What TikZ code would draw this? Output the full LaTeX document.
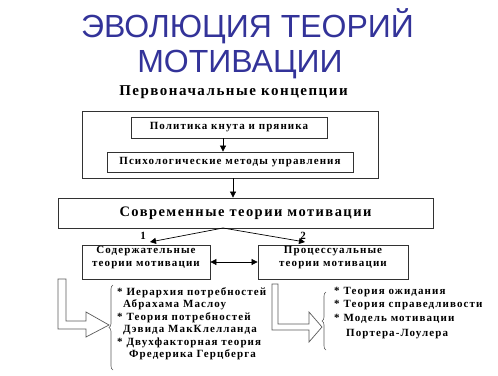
\documentclass[tikz,border=0pt]{standalone}
\usepackage{fontspec}
\setmainfont{Liberation Serif}
\newfontfamily\titlef{Liberation Sans}
\newfontfamily\bodyf[LetterSpace=10]{Liberation Serif}
\usetikzlibrary{arrows.meta,decorations.pathreplacing}
\definecolor{titleblue}{RGB}{51,51,153}
\definecolor{boxline}{RGB}{50,50,50}
\definecolor{hollow}{RGB}{90,90,90}
\tikzset{
  ttl/.style={font=\titlef\fontsize{32}{32}\selectfont, text=titleblue, anchor=base, inner sep=0pt},
  txt/.style={font=\bodyf\bfseries\fontsize{11}{13}\selectfont, inner sep=0pt, align=center},
  item/.style={font=\bodyf\bfseries\fontsize{11}{13}\selectfont, inner sep=0pt, anchor=base west},
  box/.style={draw=boxline, line width=0.8pt, rectangle, inner sep=0pt},
  arr/.style={draw=black, line width=0.7pt, -{Triangle[length=6pt,width=6pt]}},
  darr/.style={draw=black, line width=0.7pt, {Triangle[length=6pt,width=6pt]}-{Triangle[length=6pt,width=6pt]}},
  hol/.style={draw=hollow, line width=0.7pt, fill=white},
  brc/.style={draw=hollow, line width=0.6pt, decorate, decoration={brace, amplitude=4pt}}
}
\begin{document}
\begin{tikzpicture}[x=1pt,y=-1pt]
\useasboundingbox (0,0) rectangle (498,375);
% title
\node[ttl] (t1) at (247.5,37) {ЭВОЛЮЦИЯ ТЕОРИЙ};
\node[ttl] (t2) at (240,72) {МОТИВАЦИИ};
\node[txt, font=\bodyf\bfseries\fontsize{15}{17}\selectfont, anchor=base] (pk) at (233.5,95) {Первоначальные концепции};
% boxes
\node[box, minimum width=296pt, minimum height=67pt] (outer) at (230,144.5) {};
\node[box, minimum width=196pt, minimum height=21pt] (pol) at (229,127.5) {};
\node[txt] at (pol.center) {Политика кнута и пряника};
\node[box, minimum width=246pt, minimum height=20pt] (psy) at (230,162) {};
\node[txt] at (psy.center) {Психологические методы управления};
\node[box, minimum width=375pt, minimum height=30pt] (sov) at (245.5,213) {};
\node[txt, font=\bodyf\bfseries\fontsize{14.5}{16}\selectfont] at (sov.center) {Современные теории мотивации};
\node[box, minimum width=128pt, minimum height=34pt] (sod) at (146,262) {};
\node[txt] at (146,258) {Содержательные\\теории мотивации};
\node[box, minimum width=150pt, minimum height=34pt] (pro) at (333,262) {};
\node[txt] at (333,258) {Процессуальные\\теории мотивации};
% connectors
\coordinate (c1) at (223,228);
\draw[arr] (pol.south -| c1) -- (psy.north -| c1);
\coordinate (c2) at (233,178);
\draw[arr] (outer.south -| c2) -- (sov.north -| c2);
\coordinate (e1) at (150,242);
\coordinate (e2) at (305,242);
\draw[arr] (c1) -- (e1);
\draw[arr] (c1) -- (e2);
\node[txt, font=\bodyf\bfseries\fontsize{11}{13}\selectfont] (n1) at (143,236) {1};
\node[txt, font=\bodyf\bfseries\fontsize{11}{13}\selectfont] (n2) at (303,236) {2};
\draw[darr] (sod.east) -- (pro.west);
% hollow arrows
\draw[hol] (58,279) -- (58,329) -- (86,329) -- (86,337) -- (109,325) -- (86,312) -- (86,321) -- (66,321) -- (66,279) -- cycle;
\draw[hol] (272,284) -- (272,330) -- (309,330) -- (309,342) -- (322,327) -- (309,312) -- (309,324) -- (278,324) -- (278,284) -- cycle;
% braces
\draw[brc] (113,370) -- (113,285);
\draw[brc] (326,350) -- (326,292);
% left list
\node[item] (l1) at (117,295) {* Иерархия потребностей};
\node[item] (l2) at (123,307.5) {Абрахама Маслоу};
\node[item] (l3) at (117,320) {* Теория потребностей};
\node[item] (l4) at (123,332.5) {Дэвида МакКлелланда};
\node[item] (l5) at (117,345) {* Двухфакторная теория};
\node[item] (l6) at (129,357.5) {Фредерика Герцберга};
% right list
\node[item] (r1) at (334,294) {* Теория ожидания};
\node[item] (r2) at (334,307) {* Теория справедливости};
\node[item] (r3) at (334,321) {* Модель мотивации};
\node[item] (r4) at (346,336) {Портера-Лоулера};
\end{tikzpicture}
\end{document}
